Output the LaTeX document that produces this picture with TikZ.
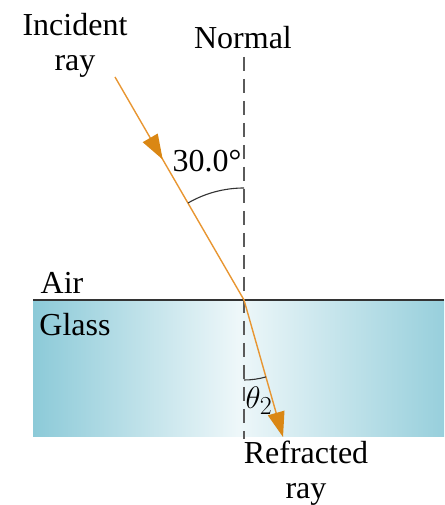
\documentclass[tikz,border=0pt]{standalone}
\usepackage{fontspec}
\setmainfont{Liberation Serif}
\usetikzlibrary{arrows.meta,decorations.markings}
\definecolor{glassblue}{RGB}{140,202,216}
\definecolor{rayorange}{RGB}{232,150,50}
\definecolor{tiporange}{RGB}{218,135,20}
\definecolor{normalgray}{RGB}{90,90,90}
\tikzset{
  lbl/.style={font=\fontsize{32}{35}\selectfont, inner sep=0pt, align=center},
  raystyle/.style={draw=rayorange, line width=1.4pt},
  tipstyle/.style={-{Triangle[length=25pt,width=17pt,fill=tiporange,color=tiporange]}},
  normalstyle/.style={draw=normalgray, line width=1.8pt, dash pattern=on 14pt off 8pt},
  anglearc/.style={draw=black!80, line width=1.1pt}
}
\begin{document}
\begin{tikzpicture}[x=1pt,y=1pt]
\useasboundingbox (0,0) rectangle (444,505);
% glass
\shade[left color=glassblue, right color=glassblue!90, middle color=glassblue!15] (33,68) rectangle (444,205);
% interface
\draw[draw=black!80, line width=1.4pt] (33,205) -- (444,205);
% normal
\coordinate (ntop) at (244,448);
\coordinate (nbot) at (244,66);
\draw[normalstyle] (ntop) -- (nbot);
% rays
\coordinate (istart) at (115,428);
\coordinate (hit) at (244,205);
\coordinate (rend) at (283,68);
\draw[raystyle, postaction={decorate}, decoration={markings, mark=at position 0.37 with {\arrow{Triangle[length=25pt,width=17pt,fill=tiporange,color=tiporange]}}}] (istart) -- (hit);
\draw[raystyle, tipstyle] (hit) -- (rend);
% angle arcs
\draw[anglearc] (244,317) arc[start angle=90, end angle=120, radius=112];
\draw[anglearc] (244,125) arc[start angle=270, end angle=286, radius=80];
% labels
\node[lbl] (incident) at (75,460) {Incident\\ray};
\node[lbl] (normal) at (243,467) {Normal};
\node[lbl] (ang1) at (207,344) {30.0°};
\node[lbl] (air) at (62,222) {Air};
\node[lbl] (glass) at (75,180) {Glass};
\node[lbl] (theta) at (259,104) {\scalebox{1.25}{$\theta_2$}};
\node[lbl] (refr) at (306,32) {Refracted\\ray};
\end{tikzpicture}
\end{document}
